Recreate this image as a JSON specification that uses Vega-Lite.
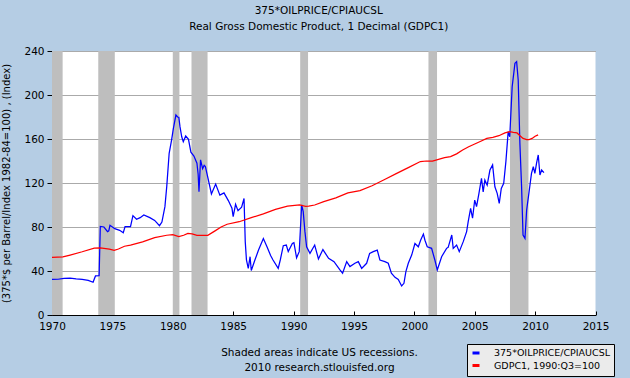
{
  "$schema": "https://vega.github.io/schema/vega-lite/v6.json",
  "width": 543.5,
  "height": 264,
  "autosize": {"type": "none"},
  "padding": {"left": 52, "top": 51, "right": 34.5, "bottom": 63},
  "background": "#B5CDE4",
  "config": {
    "font": "DejaVu Sans",
    "view": {"stroke": null, "fill": "#FFFFFF"},
    "title": {"font": "DejaVu Sans", "fontSize": 10.5, "fontWeight": "normal", "color": "#000000"},
    "axis": {"labelFont": "DejaVu Sans", "titleFont": "DejaVu Sans", "labelColor": "#000000", "titleColor": "#000000", "domainColor": "#000000", "tickColor": "#000000"}
  },
  "title": {
    "text": ["375*OILPRICE/CPIAUCSL", "Real Gross Domestic Product, 1 Decimal (GDPC1)"],
    "anchor": "middle",
    "frame": "group",
    "dx": -5,
    "offset": 14,
    "lineHeight": 16
  },
  "datasets": {
    "rec": [
      {"d": 1970.0, "d2": 1970.88},
      {"d": 1973.83, "d2": 1975.2},
      {"d": 1980.0, "d2": 1980.55},
      {"d": 1981.55, "d2": 1982.88},
      {"d": 1990.55, "d2": 1991.2},
      {"d": 2001.17, "d2": 2001.88},
      {"d": 2007.92, "d2": 2009.45}
    ],
    "oil": [
      {"d": 1970.0, "v": 32.4}, {"d": 1970.5, "v": 32.5}, {"d": 1971.0, "v": 33.2}, {"d": 1971.5, "v": 33.5},
      {"d": 1972.0, "v": 32.8}, {"d": 1972.5, "v": 32.3}, {"d": 1973.0, "v": 31.5}, {"d": 1973.4, "v": 29.8},
      {"d": 1973.6, "v": 35.5}, {"d": 1973.9, "v": 35.7}, {"d": 1974.0, "v": 80.5}, {"d": 1974.3, "v": 80},
      {"d": 1974.6, "v": 75.8}, {"d": 1974.7, "v": 76.5}, {"d": 1974.8, "v": 81.5}, {"d": 1975.2, "v": 78.5},
      {"d": 1975.6, "v": 77}, {"d": 1975.9, "v": 74.8}, {"d": 1976.05, "v": 80.3}, {"d": 1976.5, "v": 80.3},
      {"d": 1976.7, "v": 90.3}, {"d": 1977.0, "v": 87}, {"d": 1977.3, "v": 88.5}, {"d": 1977.6, "v": 90.9},
      {"d": 1978.1, "v": 88.5}, {"d": 1978.5, "v": 86}, {"d": 1978.9, "v": 81.2}, {"d": 1979.1, "v": 84.5},
      {"d": 1979.35, "v": 98.5}, {"d": 1979.5, "v": 116.7}, {"d": 1979.7, "v": 147}, {"d": 1979.9, "v": 159},
      {"d": 1980.05, "v": 169.7}, {"d": 1980.26, "v": 181.8}, {"d": 1980.4, "v": 180}, {"d": 1980.5, "v": 179.7},
      {"d": 1980.6, "v": 171}, {"d": 1980.74, "v": 162}, {"d": 1980.87, "v": 157.6}, {"d": 1981.07, "v": 162.7},
      {"d": 1981.3, "v": 159.7}, {"d": 1981.5, "v": 148}, {"d": 1981.75, "v": 144.5}, {"d": 1982.0, "v": 138},
      {"d": 1982.1, "v": 128}, {"d": 1982.17, "v": 112}, {"d": 1982.3, "v": 141}, {"d": 1982.47, "v": 133},
      {"d": 1982.6, "v": 136}, {"d": 1982.7, "v": 135}, {"d": 1982.95, "v": 122.7}, {"d": 1983.2, "v": 110},
      {"d": 1983.55, "v": 119}, {"d": 1983.9, "v": 109}, {"d": 1984.24, "v": 111}, {"d": 1984.6, "v": 104},
      {"d": 1984.9, "v": 97}, {"d": 1985.0, "v": 89.4}, {"d": 1985.2, "v": 100.6}, {"d": 1985.4, "v": 94.8},
      {"d": 1985.7, "v": 98}, {"d": 1985.9, "v": 106}, {"d": 1986.0, "v": 66.7}, {"d": 1986.1, "v": 50},
      {"d": 1986.25, "v": 42.4}, {"d": 1986.4, "v": 53}, {"d": 1986.5, "v": 40.5}, {"d": 1986.8, "v": 50},
      {"d": 1987.1, "v": 59}, {"d": 1987.5, "v": 69.5}, {"d": 1987.8, "v": 62}, {"d": 1988.1, "v": 54},
      {"d": 1988.3, "v": 50}, {"d": 1988.73, "v": 42.4}, {"d": 1988.9, "v": 50}, {"d": 1989.15, "v": 63},
      {"d": 1989.4, "v": 63.6}, {"d": 1989.56, "v": 57.6}, {"d": 1989.9, "v": 65}, {"d": 1990.03, "v": 65.8},
      {"d": 1990.25, "v": 52}, {"d": 1990.47, "v": 57.6}, {"d": 1990.67, "v": 100}, {"d": 1990.8, "v": 94},
      {"d": 1990.94, "v": 76}, {"d": 1991.08, "v": 62}, {"d": 1991.36, "v": 56}, {"d": 1991.75, "v": 63.6},
      {"d": 1992.06, "v": 51}, {"d": 1992.43, "v": 59.5}, {"d": 1992.9, "v": 51.5}, {"d": 1993.35, "v": 48.5},
      {"d": 1993.84, "v": 41}, {"d": 1994.06, "v": 38}, {"d": 1994.4, "v": 48.5}, {"d": 1994.67, "v": 44},
      {"d": 1995.08, "v": 47}, {"d": 1995.36, "v": 48.5}, {"d": 1995.64, "v": 42.4}, {"d": 1996.05, "v": 47},
      {"d": 1996.3, "v": 56}, {"d": 1996.6, "v": 57.6}, {"d": 1996.93, "v": 59}, {"d": 1997.15, "v": 50},
      {"d": 1997.56, "v": 48.5}, {"d": 1997.84, "v": 47}, {"d": 1998.1, "v": 38}, {"d": 1998.4, "v": 34.2},
      {"d": 1998.67, "v": 32.4}, {"d": 1998.95, "v": 26.4}, {"d": 1999.14, "v": 28.8}, {"d": 1999.3, "v": 39.4},
      {"d": 1999.5, "v": 47}, {"d": 1999.78, "v": 54.5}, {"d": 2000.05, "v": 65}, {"d": 2000.33, "v": 62},
      {"d": 2000.52, "v": 68}, {"d": 2000.75, "v": 73.6}, {"d": 2000.88, "v": 68}, {"d": 2001.07, "v": 62},
      {"d": 2001.43, "v": 60.6}, {"d": 2001.7, "v": 50}, {"d": 2001.9, "v": 41}, {"d": 2002.26, "v": 53},
      {"d": 2002.67, "v": 60.6}, {"d": 2002.8, "v": 61.5}, {"d": 2003.1, "v": 72.7}, {"d": 2003.22, "v": 60.6},
      {"d": 2003.5, "v": 63.6}, {"d": 2003.72, "v": 57.6}, {"d": 2004.05, "v": 66.7}, {"d": 2004.33, "v": 75.8},
      {"d": 2004.46, "v": 84.8}, {"d": 2004.66, "v": 97}, {"d": 2004.82, "v": 88}, {"d": 2005.0, "v": 104.5},
      {"d": 2005.15, "v": 98.5}, {"d": 2005.35, "v": 110.6}, {"d": 2005.56, "v": 124.3}, {"d": 2005.7, "v": 112},
      {"d": 2005.84, "v": 122.7}, {"d": 2006.03, "v": 118}, {"d": 2006.26, "v": 131.8}, {"d": 2006.48, "v": 136.4},
      {"d": 2006.67, "v": 116.6}, {"d": 2006.86, "v": 110.6}, {"d": 2007.03, "v": 101.5}, {"d": 2007.2, "v": 115},
      {"d": 2007.4, "v": 119.7}, {"d": 2007.58, "v": 139.4}, {"d": 2007.77, "v": 166.7}, {"d": 2007.9, "v": 162},
      {"d": 2008.1, "v": 207.5}, {"d": 2008.33, "v": 228.8}, {"d": 2008.47, "v": 230.3}, {"d": 2008.6, "v": 213.6},
      {"d": 2008.74, "v": 156}, {"d": 2008.88, "v": 116.6}, {"d": 2009.0, "v": 72.7}, {"d": 2009.16, "v": 69.7},
      {"d": 2009.3, "v": 95.5}, {"d": 2009.5, "v": 112}, {"d": 2009.7, "v": 128.8}, {"d": 2009.85, "v": 134.8},
      {"d": 2009.98, "v": 128.8}, {"d": 2010.12, "v": 138}, {"d": 2010.26, "v": 145.5}, {"d": 2010.4, "v": 127.3},
      {"d": 2010.54, "v": 131.8}, {"d": 2010.73, "v": 129.4}
    ],
    "gdp": [
      {"d": 1970.0, "v": 52.4}, {"d": 1970.9, "v": 52.8}, {"d": 1971.5, "v": 54.5}, {"d": 1972.5, "v": 57.5},
      {"d": 1973.5, "v": 60.8}, {"d": 1974.0, "v": 61}, {"d": 1974.75, "v": 59.8}, {"d": 1975.15, "v": 58.8},
      {"d": 1975.5, "v": 60}, {"d": 1976.0, "v": 62.5}, {"d": 1976.5, "v": 63.6}, {"d": 1977.5, "v": 66.5},
      {"d": 1978.5, "v": 70.3}, {"d": 1979.5, "v": 72.5}, {"d": 1980.0, "v": 73}, {"d": 1980.5, "v": 71.2},
      {"d": 1980.9, "v": 72.5}, {"d": 1981.25, "v": 74.2}, {"d": 1981.6, "v": 73.8}, {"d": 1982.0, "v": 72.5},
      {"d": 1982.9, "v": 72.5}, {"d": 1983.5, "v": 76.5}, {"d": 1984.0, "v": 80}, {"d": 1984.5, "v": 82.5},
      {"d": 1985.5, "v": 84.8}, {"d": 1986.5, "v": 88.5}, {"d": 1987.5, "v": 92}, {"d": 1988.5, "v": 96},
      {"d": 1989.5, "v": 99}, {"d": 1990.5, "v": 100}, {"d": 1991.0, "v": 98.8}, {"d": 1991.25, "v": 99},
      {"d": 1991.75, "v": 100}, {"d": 1992.5, "v": 103}, {"d": 1993.5, "v": 106.5}, {"d": 1994.5, "v": 111},
      {"d": 1995.5, "v": 113}, {"d": 1996.5, "v": 117.5}, {"d": 1997.5, "v": 123}, {"d": 1998.5, "v": 128.5},
      {"d": 1999.5, "v": 134}, {"d": 2000.5, "v": 139.5}, {"d": 2001.0, "v": 140}, {"d": 2001.5, "v": 140},
      {"d": 2002.0, "v": 141.5}, {"d": 2002.5, "v": 143}, {"d": 2003.0, "v": 144}, {"d": 2003.5, "v": 146.5},
      {"d": 2004.0, "v": 150}, {"d": 2004.5, "v": 153}, {"d": 2005.0, "v": 155.5}, {"d": 2005.5, "v": 158},
      {"d": 2006.0, "v": 160.5}, {"d": 2006.5, "v": 161.5}, {"d": 2007.0, "v": 163}, {"d": 2007.5, "v": 165.5},
      {"d": 2007.9, "v": 166.7}, {"d": 2008.2, "v": 166}, {"d": 2008.5, "v": 165.5}, {"d": 2008.75, "v": 163},
      {"d": 2009.0, "v": 160.5}, {"d": 2009.3, "v": 159.5}, {"d": 2009.5, "v": 159.5}, {"d": 2009.75, "v": 160.5},
      {"d": 2010.0, "v": 162.5}, {"d": 2010.25, "v": 163.8}
    ]
  },
  "encoding": {
    "x": {
      "field": "d",
      "type": "quantitative",
      "scale": {"domain": [1970, 2015], "nice": false, "zero": false},
      "axis": {
        "values": [1970, 1975, 1980, 1985, 1990, 1995, 2000, 2005, 2010, 2015],
        "format": "d",
        "grid": false,
        "tickSize": -4,
        "labelPadding": 10,
        "labelFontSize": 10.5,
        "labelFlush": false,
        "title": ["Shaded areas indicate US recessions.", "2010 research.stlouisfed.org"],
        "titleFontSize": 10.5,
        "titleFontWeight": "normal",
        "titleLineHeight": 15,
        "titlePadding": 16,
        "titleX": 267
      }
    }
  },
  "layer": [
    {
      "data": {"name": "rec"},
      "mark": {"type": "rect", "color": "#BEBEBE"},
      "encoding": {"x2": {"field": "d2"}}
    },
    {
      "data": {"name": "oil"},
      "mark": {"type": "line", "strokeWidth": 1.25},
      "encoding": {
        "y": {
          "field": "v", "type": "quantitative",
          "scale": {"domain": [0, 240], "nice": false},
          "axis": {"values": [0, 40, 80, 120, 160, 200, 240], "grid": true, "gridColor": "#AAAAAA", "tickSize": 5, "labelPadding": 3, "labelFontSize": 10.5, "title": "(375*$ per Barrel/Index 1982-84=100) , (Index)", "titleFontSize": 10, "titleFontWeight": "normal", "titlePadding": 12}
        },
        "color": {
          "datum": "375*OILPRICE/CPIAUCSL",
          "scale": {"domain": ["375*OILPRICE/CPIAUCSL", "GDPC1, 1990:Q3=100"], "range": ["#0000FF", "#FF0000"]},
          "legend": {"orient": "none", "legendX": 415, "legendY": 293, "title": null, "padding": 4, "fillColor": "#EBEBEB", "strokeColor": "#000000", "symbolType": "stroke", "symbolSize": 49, "symbolStrokeWidth": 3, "labelFontSize": 9.5, "labelOffset": 13, "rowPadding": 0.5, "labelFont": "DejaVu Sans"}
        }
      }
    },
    {
      "data": {"name": "gdp"},
      "mark": {"type": "line", "strokeWidth": 1.25},
      "encoding": {
        "y": {
          "field": "v", "type": "quantitative",
          "scale": {"domain": [0, 240], "nice": false},
          "axis": {"values": [0, 40, 80, 120, 160, 200, 240], "grid": true, "gridColor": "#AAAAAA", "tickSize": 5, "labelPadding": 3, "labelFontSize": 10.5, "title": "(375*$ per Barrel/Index 1982-84=100) , (Index)", "titleFontSize": 10, "titleFontWeight": "normal", "titlePadding": 12}
        },
        "color": {
          "datum": "GDPC1, 1990:Q3=100",
          "scale": {"domain": ["375*OILPRICE/CPIAUCSL", "GDPC1, 1990:Q3=100"], "range": ["#0000FF", "#FF0000"]},
          "legend": {"orient": "none", "legendX": 415, "legendY": 293, "title": null, "padding": 4, "fillColor": "#EBEBEB", "strokeColor": "#000000", "symbolType": "stroke", "symbolSize": 49, "symbolStrokeWidth": 3, "labelFontSize": 9.5, "labelOffset": 13, "rowPadding": 0.5, "labelFont": "DejaVu Sans"}
        }
      }
    }
  ]
}
